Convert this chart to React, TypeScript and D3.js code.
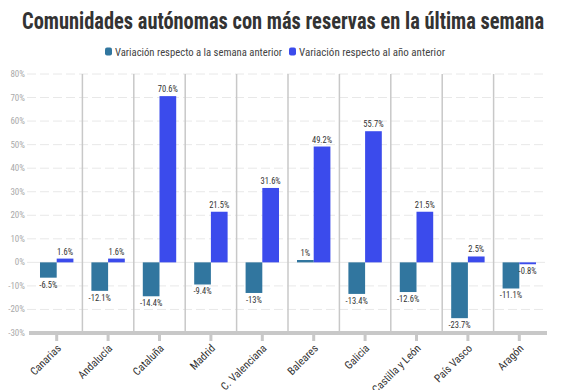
import React from "react";
import * as d3 from "d3";

const title = "Comunidades autónomas con más reservas en la última semana";
const seriesNames = [
  "Variación respecto a la semana anterior",
  "Variación respecto al año anterior",
];
const seriesColors = ["#31769f", "#3b4bec"];
const categories = [
  "Canarias",
  "Andalucía",
  "Cataluña",
  "Madrid",
  "C. Valenciana",
  "Baleares",
  "Galicia",
  "Castilla y León",
  "País Vasco",
  "Aragón",
];
const weekly = [-6.5, -12.1, -14.4, -9.4, -13, 1, -13.4, -12.6, -23.7, -11.1];
const yearly = [1.6, 1.6, 70.6, 21.5, 31.6, 49.2, 55.7, 21.5, 2.5, -0.8];
const yTicks = [-30, -20, -10, 0, 10, 20, 30, 40, 50, 60, 70, 80];

const W = 564;
const H = 390;
const font = "'Roboto Condensed', 'Liberation Sans Narrow', 'DejaVu Sans Condensed', Roboto, sans-serif";

const App = () => {
  const y = d3.scaleLinear().domain([-30, 80]).range([333, 74]);
  const x = d3.scaleBand<string>().domain(categories).range([31, 545]);
  const x1 = d3
    .scaleBand<number>()
    .domain([0, 1])
    .range([x.bandwidth() * 0.175, x.bandwidth() * 0.825]);
  const series = [weekly, yearly];
  const fmt = (v: number) => `${v}%`;

  // legend: [square x, text x, text width]
  const legend = [
    [105, 115, 167],
    [289, 299, 146],
  ];

  return (
    <svg width={W} height={H} style={{ position: "absolute", left: 0, top: 0 }} fontFamily={font}>
      <rect width={W} height={H} fill="#fff" />
      <text
        x={W / 2 + 1}
        y={29}
        textAnchor="middle"
        fontSize={23}
        fontWeight={700}
        fill="#333"
        textLength={522}
        lengthAdjust="spacingAndGlyphs"
      >
        {title}
      </text>

      {legend.map(([sx, tx, tw], k) => (
        <g key={k}>
          <rect x={sx} y={47.5} width={7} height={8} rx={2} fill={seriesColors[k]} />
          <text x={tx} y={55.5} fontSize={11} fill="#444" textLength={tw} lengthAdjust="spacingAndGlyphs">
            {seriesNames[k]}
          </text>
        </g>
      ))}

      {/* grid */}
      {yTicks.map((t) => (
        <g key={t}>
          {t !== -30 && (
            <line
              x1={27}
              x2={545}
              y1={y(t)}
              y2={y(t)}
              stroke="#e8e8e8"
              strokeWidth={1}
              strokeDasharray={t === 0 ? undefined : "9,4"}
            />
          )}
          <text x={25} y={y(t) + 3} textAnchor="end" fontSize={9} fill="#aaa">
            {fmt(t)}
          </text>
        </g>
      ))}

      {/* separators */}
      {categories.slice(1).map((c) => (
        <line
          key={c}
          x1={x(c)}
          x2={x(c)}
          y1={y(80)}
          y2={y(-30)}
          stroke="#c8c8c8"
          strokeWidth={1.5}
        />
      ))}

      {/* bars */}
      {categories.map((c, i) =>
        series.map((s, k) => {
          const v = s[i];
          const bx = (x(c) ?? 0) + (x1(k) ?? 0);
          const top = y(Math.max(0, v));
          const h = Math.abs(y(v) - y(0));
          return (
            <g key={c + k}>
              <rect x={bx} y={top} width={x1.bandwidth()} height={Math.max(h, 1)} fill={seriesColors[k]} />
              <text
                x={bx + x1.bandwidth() / 2}
                y={v >= 0 ? y(v) - 4 : y(v) + 10}
                textAnchor="middle"
                fontSize={8.5}
                fill="#333"
              >
                {fmt(v)}
              </text>
            </g>
          );
        })
      )}

      {/* x axis */}
      <line x1={29} x2={547} y1={y(-30)} y2={y(-30)} stroke="#c8c8c8" strokeWidth={4} />
      {categories.map((c) => {
        const cx = (x(c) ?? 0) + x.bandwidth() / 2;
        return (
          <g key={c}>
            <rect x={cx - 1.5} y={335} width={3} height={6} fill="#c8c8c8" />
            <text
              transform={`translate(${cx + 5},${349}) rotate(-45)`}
              textAnchor="end"
              fontSize={11}
              fill="#333"
            >
              {c}
            </text>
          </g>
        );
      })}
    </svg>
  );
};

export default App;
